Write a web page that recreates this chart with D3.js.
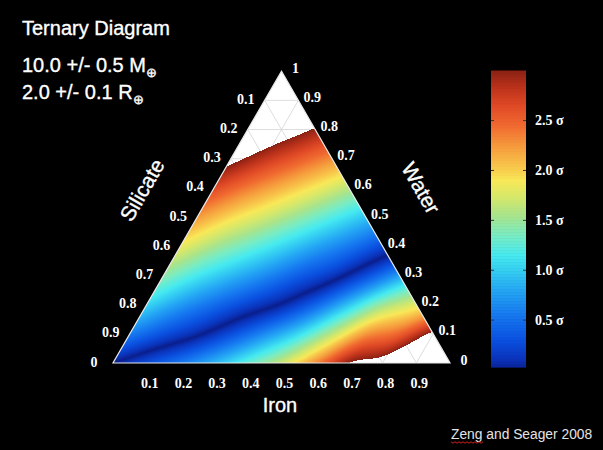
<!DOCTYPE html>
<html>
<head>
<meta charset="utf-8">
<script src="https://cdn.jsdelivr.net/npm/d3@7"></script>
<style>
  html, body { margin: 0; padding: 0; background: #000; }
  #chart { width: 603px; height: 450px; }
  text { fill: #fff; }
  .serif { font-family: "Liberation Serif", "DejaVu Serif", serif; font-weight: bold; }
  .sans { font-family: "Liberation Sans", Arial, sans-serif; stroke: #fff; stroke-width: 0.35px; }
</style>
</head>
<body>
<div id="chart"></div>
<script>
// signed sigma, one row per water fraction (0, 0.1, ... 1),
// entries per iron fraction 0, 0.1, ... up to 1 - water. Negative = too small.
const sigmaRows = [
  [0.00, -0.28, -0.55, -0.88, -1.27, -1.70, -2.31, -3.00, -3.20, -3.90, -5.00],
  [0.58, 0.30, 0.05, -0.28, -0.65, -1.06, -1.63, -2.25, -2.50, -3.10],
  [1.05, 0.74, 0.48, 0.22, -0.03, -0.42, -0.95, -1.50, -1.80],
  [1.45, 1.15, 0.90, 0.66, 0.39, 0.14, -0.27, -0.75],
  [1.85, 1.55, 1.31, 1.06, 0.80, 0.55, 0.25],
  [2.25, 1.96, 1.72, 1.47, 1.21, 0.95],
  [2.67, 2.38, 2.13, 1.88, 1.62],
  [3.12, 2.81, 2.55, 2.30],
  [3.56, 3.24, 2.97],
  [4.01, 3.67],
  [4.45]
];
const gridStep = 0.1;
const sigmaLimit = 3.0;

// colour map of the bar
const colorSigmas = [0, 0.12, 0.3, 0.55, 0.8, 1.0, 1.15, 1.35, 1.55, 1.75, 1.9, 2.05, 2.25, 2.45, 2.65, 2.85, 3.0];
const colorValues = ['#0a1e8c', '#0a34bc', '#0a50e0', '#1678f0', '#24a6f4', '#34cef2', '#46eaf0', '#78ecc4',
                     '#a8e48c', '#d8e868', '#f8e858', '#f8c44a', '#f59a3c', '#f06a30', '#e04a26', '#b8301a', '#8a2214'];
const barRange = [0.03, 3.0];
const barTicks = [0.5, 1.0, 1.5, 2.0, 2.5];

// axis labels
const ternaryTicks = [0.1, 0.2, 0.3, 0.4, 0.5, 0.6, 0.7, 0.8, 0.9];
const leftTickPos = [0.1, 0.2, 0.3, 0.4, 0.5, 0.6, 0.7, 0.8, 0.9, 1.0];
const leftTickText = ['0.1', '0.2', '0.3', '0.4', '0.5', '0.6', '0.7', '0.8', '0.9', '0'];
const rightTickPos = [1.0, 0.9, 0.8, 0.7, 0.6, 0.5, 0.4, 0.3, 0.2, 0.1, 0];
const rightTickText = ['1', '0.9', '0.8', '0.7', '0.6', '0.5', '0.4', '0.3', '0.2', '0.1', '0'];

const width = 603, height = 450;
const L = [113, 363], side = 337, triH = side * Math.sqrt(3) / 2;

const svg = d3.select('#chart').append('svg')
    .attr('width', width)
    .attr('height', height);

svg.append('rect').attr('width', width).attr('height', height).attr('fill', '#000');

// ternary position: u = iron + water/2 along the base, water up
const xScale = d3.scaleLinear().domain([0, 1]).range([L[0], L[0] + side]);
const yScale = d3.scaleLinear().domain([0, 1]).range([L[1], L[1] - triH]);
const px = (fe, w) => [xScale(fe + w / 2), yScale(w)];

const color = d3.scaleLinear().domain(colorSigmas).range(colorValues).interpolate(d3.interpolateRgb);

function catmull(p0, p1, p2, p3, t) {
    return 0.5 * (2 * p1 + (-p0 + p2) * t + (2 * p0 - 5 * p1 + 4 * p2 - p3) * t * t
        + (-p0 + 3 * p1 - 3 * p2 + p3) * t * t * t);
}

function rowAt(j, fe) {
    const r = sigmaRows[j];
    if (r.length === 1) return r[0];
    const t = fe / gridStep;
    let i = Math.floor(t);
    if (i > r.length - 2) {
        i = r.length - 2;
        return r[i + 1] + (t - i - 1) * (r[i + 1] - r[i]);
    }
    if (i < 0) i = 0;
    const p1 = r[i], p2 = r[i + 1];
    const p0 = i > 0 ? r[i - 1] : 2 * p1 - p2;
    const p3 = i + 2 < r.length ? r[i + 2] : 2 * p2 - p1;
    return catmull(p0, p1, p2, p3, t - i);
}

function sigmaAt(fe, w) {
    const t = w / gridStep;
    const j = Math.max(0, Math.min(Math.floor(t), sigmaRows.length - 2));
    const v1 = rowAt(j, fe), v2 = rowAt(j + 1, fe);
    const v0 = j > 0 ? rowAt(j - 1, fe) : 2 * v1 - v2;
    const v3 = j + 2 < sigmaRows.length ? rowAt(j + 2, fe) : 2 * v2 - v1;
    return catmull(v0, v1, v2, v3, t - j);
}

// white triangle with the light grid (only seen where the field is cut off)
const corners = [px(0, 0), px(1, 0), px(0, 1)];
svg.append('polygon')
    .attr('points', corners.join(' '))
    .attr('fill', '#fff');

const gridLines = [];
ternaryTicks.forEach(v => {
    gridLines.push([px(0, v), px(1 - v, v)]);
    gridLines.push([px(v, 0), px(v, 1 - v)]);
    gridLines.push([px(1 - v, 0), px(0, 1 - v)]);
});
svg.append('g').selectAll('line')
    .data(gridLines)
    .enter().append('line')
    .attr('x1', d => d[0][0]).attr('y1', d => d[0][1])
    .attr('x2', d => d[1][0]).attr('y2', d => d[1][1])
    .attr('stroke', '#d4d4d4')
    .attr('stroke-width', 0.8);

// colour field
const x0 = Math.floor(L[0]), y0 = Math.floor(L[1] - triH);
const cw = side + 2, ch = Math.ceil(triH) + 2;
const canvas = document.createElement('canvas');
canvas.width = cw; canvas.height = ch;
const ctx = canvas.getContext('2d');
const img = ctx.createImageData(cw, ch);
for (let yy = 0; yy < ch; yy++) {
    for (let xx = 0; xx < cw; xx++) {
        const w = yScale.invert(y0 + yy + 0.5);
        const fe = xScale.invert(x0 + xx + 0.5) - w / 2;
        if (w < 0 || fe < 0 || fe + w > 1) continue;
        const s = Math.abs(sigmaAt(fe, w));
        if (s > sigmaLimit) continue;
        const c = d3.rgb(color(s));
        const k = (yy * cw + xx) * 4;
        img.data[k] = c.r; img.data[k + 1] = c.g; img.data[k + 2] = c.b; img.data[k + 3] = 255;
    }
}
ctx.putImageData(img, 0, 0);
svg.append('image')
    .attr('x', x0).attr('y', y0)
    .attr('width', cw).attr('height', ch)
    .attr('href', canvas.toDataURL());

svg.append('polygon')
    .attr('points', corners.join(' '))
    .attr('fill', 'none')
    .attr('stroke', '#e8e8e8')
    .attr('stroke-width', 1.2);

// tick labels
const tickFont = 14;
svg.append('g').selectAll('text')
    .data(leftTickPos)
    .enter().append('text')
    .attr('class', 'serif')
    .attr('x', d => px(0, 1 - d)[0] - 19)
    .attr('y', d => px(0, 1 - d)[1] - 1)
    .attr('text-anchor', 'middle')
    .attr('dominant-baseline', 'central')
    .attr('font-size', tickFont)
    .text((d, i) => leftTickText[i]);

svg.append('g').selectAll('text')
    .data(rightTickPos)
    .enter().append('text')
    .attr('class', 'serif')
    .attr('x', d => px(1 - d, d)[0] + 14)
    .attr('y', d => px(1 - d, d)[1] - 3)
    .attr('text-anchor', 'middle')
    .attr('dominant-baseline', 'central')
    .attr('font-size', tickFont)
    .text((d, i) => rightTickText[i]);

svg.append('g').selectAll('text')
    .data(ternaryTicks)
    .enter().append('text')
    .attr('class', 'serif')
    .attr('x', d => px(d, 0)[0] + 3)
    .attr('y', 383)
    .attr('text-anchor', 'middle')
    .attr('dominant-baseline', 'central')
    .attr('font-size', tickFont)
    .text(d => d.toFixed(1));

// axis titles
svg.append('text').attr('class', 'sans')
    .attr('transform', 'translate(142,190) rotate(-60)')
    .attr('text-anchor', 'middle').attr('dominant-baseline', 'central')
    .attr('font-size', 21)
    .text('Silicate');
svg.append('text').attr('class', 'sans')
    .attr('transform', 'translate(421,188) rotate(60)')
    .attr('text-anchor', 'middle').attr('dominant-baseline', 'central')
    .attr('font-size', 21)
    .text('Water');
svg.append('text').attr('class', 'sans')
    .attr('x', 280).attr('y', 412)
    .attr('text-anchor', 'middle')
    .attr('font-size', 20)
    .text('Iron');

// colour bar
const barY = d3.scaleLinear().domain([0, 3]).range([370, 70.7]);
const barX = 491, barW = 35;
const barSteps = d3.range(barRange[0], barRange[1], 0.03);
svg.append('g').selectAll('rect')
    .data(barSteps)
    .enter().append('rect')
    .attr('x', barX)
    .attr('y', d => barY(Math.min(d + 0.03, barRange[1])))
    .attr('width', barW)
    .attr('height', d => barY(d) - barY(Math.min(d + 0.03, barRange[1])) + 0.6)
    .attr('fill', d => color(d + 0.015));

const tickG = svg.append('g').selectAll('g')
    .data(barTicks)
    .enter().append('g');
tickG.append('line')
    .attr('x1', barX).attr('x2', barX + 3)
    .attr('y1', d => barY(d)).attr('y2', d => barY(d))
    .attr('stroke', '#333');
tickG.append('line')
    .attr('x1', barX + barW - 3).attr('x2', barX + barW)
    .attr('y1', d => barY(d)).attr('y2', d => barY(d))
    .attr('stroke', '#333');
tickG.append('text')
    .attr('class', 'serif')
    .attr('x', 535)
    .attr('y', d => barY(d))
    .attr('dominant-baseline', 'central')
    .attr('font-size', 14)
    .text(d => d.toFixed(1) + ' σ');

// header text
svg.append('text').attr('class', 'sans')
    .attr('x', 22).attr('y', 35)
    .attr('font-size', 20)
    .text('Ternary Diagram');
const massText = svg.append('text').attr('class', 'sans')
    .attr('x', 22).attr('y', 72)
    .attr('font-size', 20);
massText.append('tspan').text('10.0 +/- 0.5 M');
massText.append('tspan').attr('font-size', 13).attr('dy', 5).text('⊕');
const radText = svg.append('text').attr('class', 'sans')
    .attr('x', 22).attr('y', 99)
    .attr('font-size', 20);
radText.append('tspan').text('2.0 +/- 0.1 R');
radText.append('tspan').attr('font-size', 13).attr('dy', 5).text('⊕');

// credit
svg.append('text')
    .attr('x', 451).attr('y', 439)
    .attr('font-family', '"Liberation Sans", Arial, sans-serif')
    .attr('font-size', 13.8)
    .style('fill', '#e4e4e4')
    .text('Zeng and Seager 2008');
const squiggle = d3.range(0, 33, 2).map((d, i) => [451 + d, 442 + (i % 2 ? 1.2 : -0.2)]);
svg.append('path')
    .attr('d', d3.line()(squiggle))
    .attr('fill', 'none')
    .attr('stroke', '#d02020')
    .attr('stroke-width', 1);
</script>
</body>
</html>
